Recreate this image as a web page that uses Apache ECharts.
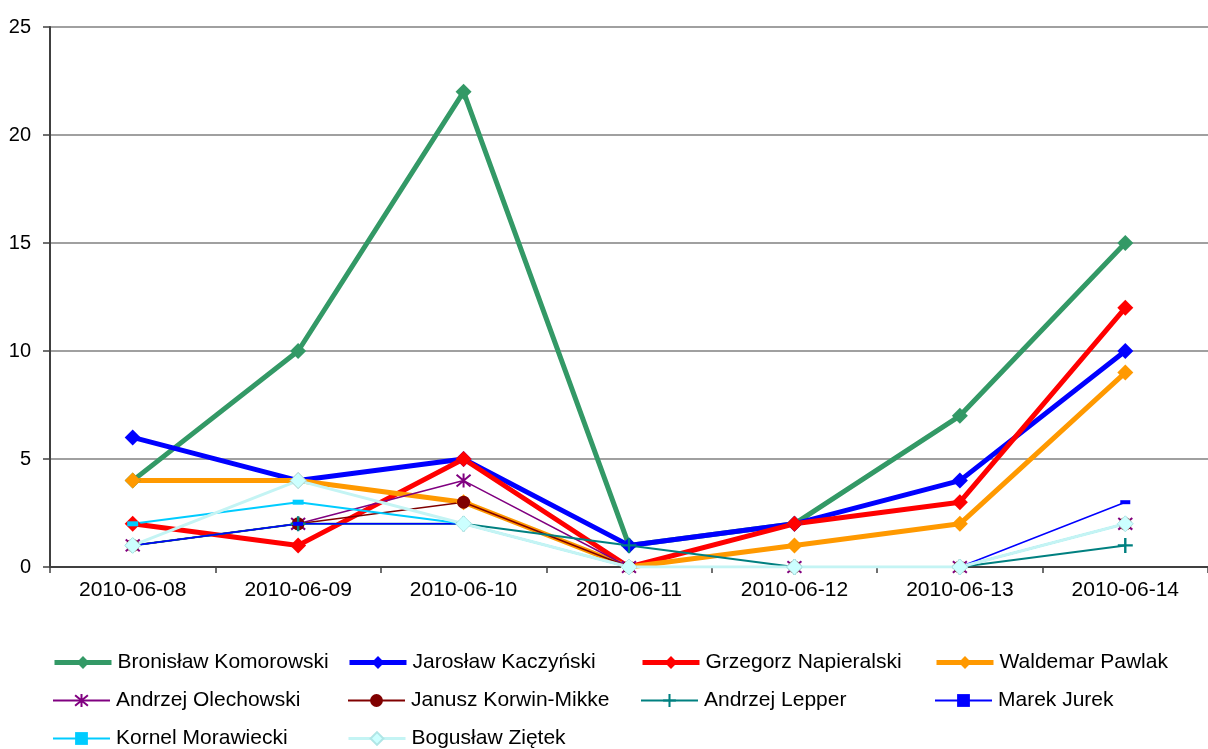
<!DOCTYPE html>
<html style="height: 100%">
    <head>
        <title>Poll Chart</title>
        <script type="text/javascript" src="https://cdn.jsdelivr.net/npm/echarts@6.0.0/dist/echarts.min.js"></script>
    </head>
    <body style="height: 100%; margin: 0; background: #fff">
        <div id="target" style="width: 1208px; height: 749px"></div>

<script type="text/javascript">
// categories (dates)
let dates = ["2010-06-08", "2010-06-09", "2010-06-10", "2010-06-11", "2010-06-12", "2010-06-13", "2010-06-14"];

// series values
let komorowski  = [4, 10, 22, 1, 2, 7, 15];
let kaczynski   = [6, 4, 5, 1, 2, 4, 10];
let napieralski = [2, 1, 5, 0, 2, 3, 12];
let pawlak      = [4, 4, 3, 0, 1, 2, 9];
let olechowski  = [1, 2, 4, 0, 0, 0, 2];
let korwin      = [1, 2, 3, 0, 0, 0, 2];
let lepper      = [1, 2, 2, 1, 0, 0, 1];
let jurek       = [1, 2, 2, 0, 0, 0, 3];
let morawiecki  = [2, 3, 2, 0, 0, 0, 2];
let zietek      = [1, 4, 2, 0, 0, 0, 2];

let yTicks = [0, 5, 10, 15, 20, 25];

let FONT = "Liberation Sans";

let chart = echarts.init(document.getElementById('target'));

// marker shapes
let asterisk = 'path://M0,0L10,10M10,0L0,10M5,-1L5,11';
let plus     = 'path://M4.2,0H5.8V4.2H10V5.8H5.8V10H4.2V5.8H0V4.2H4.2Z';
let dash     = 'path://M0,0H10V4H0Z';

// name, data, colour, line width, symbol, symbol size, legend column x, legend row
let defs = [
    ["Bronisław Komorowski", komorowski, "#339966", 5, "diamond", 16, 52, 0],
    ["Jarosław Kaczyński", kaczynski, "#0000ff", 5, "diamond", 16, 347, 0],
    ["Grzegorz Napieralski", napieralski, "#ff0000", 5, "diamond", 16, 640, 0],
    ["Waldemar Pawlak", pawlak, "#ff9900", 5, "diamond", 16, 934, 0],
    ["Andrzej Olechowski", olechowski, "#800080", 1.5, asterisk, 14, 52, 1],
    ["Janusz Korwin-Mikke", korwin, "#800000", 1.5, "circle", 13, 347, 1],
    ["Andrzej Lepper", lepper, "#008080", 2, plus, 15, 640, 1],
    ["Marek Jurek", jurek, "#0000ff", 1.5, dash, [10, 4], 934, 1],
    ["Kornel Morawiecki", morawiecki, "#00ccff", 2, dash, [11, 5], 52, 2],
    ["Bogusław Ziętek", zietek, "#c4f4f4", 3, "diamond", 16, 347, 2],
];

let rowCenters = [662, 700, 738];

let series = defs.map(d => {
    let s = {
        name: d[0],
        type: "line",
        data: d[1],
        symbol: d[4],
        symbolSize: d[5],
        showSymbol: true,
        lineStyle: { color: d[2], width: d[3] },
        itemStyle: { color: d[2] },
        emphasis: { disabled: true },
        animation: false,
    };
    if (d[4] == asterisk)
    {
        s.itemStyle = { color: d[2], borderColor: d[2], borderWidth: 2 };
    }
    if (d[0] == "Bogusław Ziętek")
    {
        s.itemStyle = { color: "#ccffff", borderColor: "#b0e6e6", borderWidth: 1 };
    }
    return s;
});

// one legend per item so the columns line up like the original
let legends = defs.map(d => ({
    left: d[6],
    top: rowCenters[d[7]] - 10,
    padding: 0,
    itemWidth: 57,
    itemHeight: 16,
    textStyle: { fontFamily: FONT, fontSize: 21, color: "#000", padding: [0, 0, 0, 1] },
    data: [{ name: d[0], lineStyle: { width: Math.max(d[3], 2) } }],
    selectedMode: false,
}));

let option = {
    backgroundColor: "#fff",
    animation: false,
    textStyle: { fontFamily: FONT },
    grid: {
        left: 50,
        top: 27,
        width: 1167,
        height: 540,
        containLabel: false,
    },
    xAxis: {
        type: "category",
        data: dates,
        boundaryGap: true,
        axisLine: { lineStyle: { color: "#404040", width: 2 } },
        axisTick: { show: true, length: 6, lineStyle: { color: "#404040", width: 1.5 } },
        axisLabel: { fontFamily: FONT, fontSize: 21, color: "#000", margin: 13 },
        splitLine: { show: false },
    },
    yAxis: {
        type: "value",
        min: yTicks[0],
        max: yTicks[yTicks.length - 1],
        interval: 5,
        axisLine: { show: true, lineStyle: { color: "#404040", width: 2 } },
        axisTick: { show: true, length: 7, lineStyle: { color: "#404040", width: 1.5 } },
        axisLabel: { fontFamily: FONT, fontSize: 20, color: "#000", margin: 19 },
        splitLine: { show: true, lineStyle: { color: "#808080", width: 1.5 } },
    },
    legend: legends,
    series: series,
};

chart.setOption(option);
</script>
    </body>
</html>
